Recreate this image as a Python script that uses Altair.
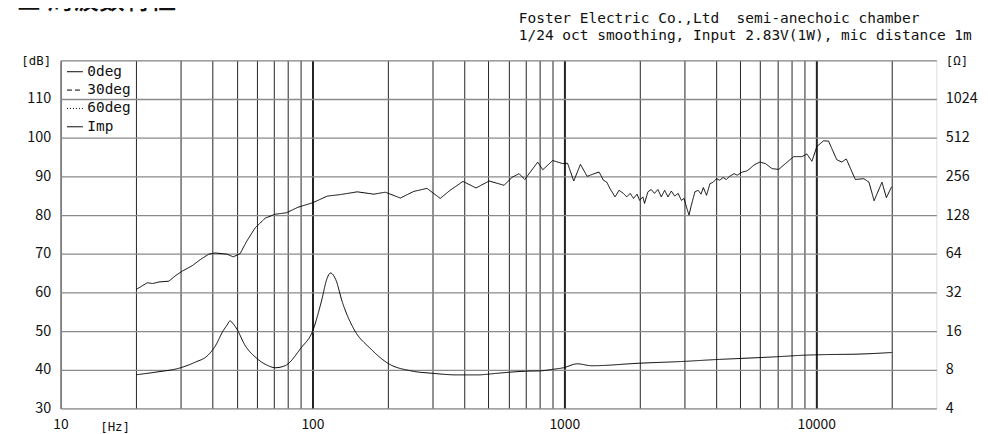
import altair as alt
import pandas as pd

# ---- data ----
spl_freq = [20.0, 22.1, 23.2, 24.6, 26.9, 28.7, 30.4, 33.3, 35.9, 38.8, 41.1, 45.7, 48.5, 51.6,
            54.8, 59.1, 64.9, 71.1, 78.9, 87.5, 100.4, 114.6, 129.5, 150.6, 175.1, 194.7, 223.5,
            252.2, 284.9, 321.6, 352, 396, 446, 503, 576, 622, 661, 697, 784, 821, 899, 985,
            1030, 1090, 1159, 1232, 1326, 1375, 1430, 1474, 1520, 1590, 1650, 1716, 1770, 1826,
            1883, 1944, 1991, 2051, 2082, 2147, 2213, 2280, 2353, 2427, 2502, 2580, 2660, 2743,
            2830, 2917, 2989, 3053, 3126, 3196, 3300, 3400, 3490, 3565, 3670, 3785, 3900, 4020,
            4140, 4270, 4400, 4530, 4720, 4860, 5080, 5300, 5460, 5630, 5800, 5980,
            6290, 6680, 7100, 7550, 8140, 8780, 9180, 9620, 10060,
            10700, 11200, 12070, 12640, 13170, 14300, 15460, 16200, 16980, 18250, 19000, 19920]
spl_0deg = [60.8, 62.5, 62.3, 62.7, 62.9, 64.4, 65.5, 66.9, 68.5, 69.9, 70.2, 69.9, 69.2, 70.0,
            73.2, 76.6, 79.2, 80.2, 80.6, 82.0, 83.2, 84.9, 85.3, 86.0, 85.4, 85.9, 84.4,
            86.1, 86.9, 84.3, 86.4, 88.7, 87.0, 88.8, 87.7, 89.8, 90.7, 89.2, 93.7, 91.7, 94.1, 93.3,
            93.4, 88.8, 93.1, 90.0, 90.8, 91.1, 89.0, 88.5, 86.8, 84.7, 86.4, 85.6, 84.7, 85.6,
            84.3, 85.4, 83.8, 84.7, 83.0, 86.0, 86.6, 85.6, 86.6, 84.7, 86.4, 84.7, 86.2, 84.9,
            85.6, 83.8, 84.3, 82.1, 80.0, 82.6, 86.0, 86.4, 85.4, 87.1, 85.1, 88.1, 88.5, 89.4,
            89.0, 89.7, 89.2, 90.0, 90.7, 90.3, 91.1, 91.4, 92.0, 92.8, 93.3, 93.7,
            93.3, 92.0, 91.8, 93.3, 95.1, 95.1, 95.8, 93.9, 97.7,
            99.2, 99.1, 94.3, 93.7, 94.5, 89.2, 89.4, 88.5, 83.7, 88.5, 84.5, 87.3]

imp_freq = [20, 23.9, 30.0, 34.4, 38.1, 41.1, 44.3, 45.7, 47.1, 48.5, 50.1, 54.0, 60.0, 66.8,
            71.1, 77.8, 90.0, 100.4, 108.3, 114.6, 118, 123.7, 131.5, 146, 169.9, 201, 245,
            302, 374, 450, 537, 607, 703, 803, 906, 994, 1125, 1285, 1991, 2998, 3975, 5010,
            6950, 9100, 10900, 14900, 19950]
imp_ohm = [7.32, 7.67, 8.3, 9.2, 10.2, 12.2, 16.2, 17.7, 19.2, 18.2, 16.6, 12.4, 9.85, 8.6,
           8.3, 8.6, 11.8, 16.2, 26.8, 41.7, 45.3, 40.3, 26.8, 16.6, 11.7, 8.9, 7.86,
           7.5, 7.3, 7.3, 7.5, 7.66, 7.8, 7.85, 8.08, 8.3, 8.9, 8.6, 9.0, 9.3, 9.6, 9.8,
           10.1, 10.4, 10.5, 10.6, 10.9]

series_names = ["0deg", "30deg", "60deg", "Imp"]
series_dash = [[1, 0], [5, 3], [1, 2], [1, 0]]

x_grid = [20, 30, 40, 50, 60, 70, 80, 90, 100, 200, 300, 400, 500, 600, 700, 800, 900,
          1000, 2000, 3000, 4000, 5000, 6000, 7000, 8000, 9000, 10000, 20000]
x_labels = [10, 100, 1000, 10000]
db_ticks = [30, 40, 50, 60, 70, 80, 90, 100, 110, 120]
ohm_ticks = [4, 8, 16, 32, 64, 128, 256, 512, 1024, 2048]

title_text = ["■ 周波数特性"]
note_lines = ["Foster Electric Co.,Ltd\u00a0\u00a0semi-anechoic chamber",
              "1/24 oct smoothing, Input 2.83V(1W), mic distance 1m"]
hz_text = ["[Hz]"]

spl_df = pd.DataFrame({"freq": spl_freq, "value": spl_0deg, "series": "0deg"})
imp_df = pd.DataFrame({"freq": imp_freq, "value": imp_ohm, "series": "Imp"})

LABEL_FONT = "Noto Sans CJK JP"
MONO = "DejaVu Sans Mono"

x_scale = alt.Scale(type="log", domain=[10, 30000], nice=False)
dash_scale = alt.Scale(domain=series_names, range=series_dash)

x_axis = alt.Axis(
    values=x_grid + x_labels, title=None, ticks=False, domain=False,
    grid=True, gridColor="#222",
    gridWidth={"condition": {"test": "datum.value==100 || datum.value==1000 || datum.value==10000", "value": 2}, "value": 1},
    labelExpr="(datum.value==10||datum.value==100||datum.value==1000||datum.value==10000) ? datum.label : ''",
    labelFont=LABEL_FONT, labelFontSize=14, labelColor="#111", labelPadding=9,
    labelFlush=False, labelOverlap=False, format="d",
)

spl = alt.Chart(spl_df).mark_line(color="black", strokeWidth=1, clip=True).encode(
    x=alt.X("freq:Q", scale=x_scale, axis=x_axis),
    y=alt.Y("value:Q", scale=alt.Scale(domain=[30, 120], nice=False, zero=False),
            axis=alt.Axis(values=db_ticks, title=None, ticks=False, domain=False, grid=True,
                          gridColor="#8a8a8a", gridWidth=1.3, orient="left",
                          labelExpr="datum.value==120 ? '[dB]' : datum.label",
                          labelFont={"condition": {"test": "datum.value==120", "value": MONO}, "value": LABEL_FONT},
                          labelFontSize={"condition": {"test": "datum.value==120", "value": 12.5}, "value": 14.5},
                          labelColor="#111", labelPadding=10, labelFlush=False)),
    strokeDash=alt.StrokeDash("series:N", scale=dash_scale,
                              legend=alt.Legend(orient="none", legendX=6, legendY=3, title=None,
                                                symbolType="stroke", symbolSize=256,
                                                symbolStrokeWidth=1, symbolStrokeColor="black",
                                                labelFont=MONO, labelFontSize=14.5, labelColor="#111",
                                                labelOffset=4, rowPadding=3.5, padding=0)),
)

imp = alt.Chart(imp_df).mark_line(color="black", strokeWidth=1, interpolate="monotone", clip=True).encode(
    x=alt.X("freq:Q", scale=x_scale),
    y=alt.Y("value:Q", scale=alt.Scale(type="log", base=2, domain=[4, 2048], nice=False),
            axis=alt.Axis(values=ohm_ticks, title=None, ticks=False, domain=False, grid=False,
                          orient="right", format="d",
                          labelExpr="datum.value==2048 ? '[Ω]' : datum.label",
                          labelFont={"condition": {"test": "datum.value==2048", "value": MONO}, "value": LABEL_FONT},
                          labelFontSize={"condition": {"test": "datum.value==2048", "value": 12.5}, "value": 14.5},
                          labelColor="#111", labelPadding=9, labelFlush=False)),
    strokeDash=alt.StrokeDash("series:N", scale=dash_scale),
)

title = alt.Chart(pd.DataFrame({"t": title_text})).mark_text(
    font=LABEL_FONT, fontSize=26, fontWeight=500, align="left", baseline="alphabetic", color="#111"
).encode(x=alt.value(-45), y=alt.value(-52), text="t:N")

note1 = alt.Chart(pd.DataFrame({"t": note_lines[:1]})).mark_text(
    font=MONO, fontSize=14.6, align="left", baseline="middle", color="#111"
).encode(x=alt.value(462), y=alt.value(-42), text="t:N")

note2 = alt.Chart(pd.DataFrame({"t": note_lines[1:]})).mark_text(
    font=MONO, fontSize=14.6, align="left", baseline="middle", color="#111"
).encode(x=alt.value(462), y=alt.value(-24), text="t:N")

hz = alt.Chart(pd.DataFrame({"t": hz_text})).mark_text(
    font=MONO, fontSize=12.5, align="center", baseline="middle", color="#111"
).encode(x=alt.value(55), y=alt.value(370), text="t:N")

chart = alt.layer(spl, imp, title, note1, note2, hz).resolve_scale(
    y="independent"
).properties(
    width=883, height=351,
    padding={"left": 53, "top": 51, "right": 44, "bottom": 24},
    autosize=alt.AutoSizeParams(type="none"),
).configure_view(
    stroke="#333", strokeWidth=2
).configure(background="white")

chart.save("out.html", embed_options={"renderer": "svg", "actions": False})
